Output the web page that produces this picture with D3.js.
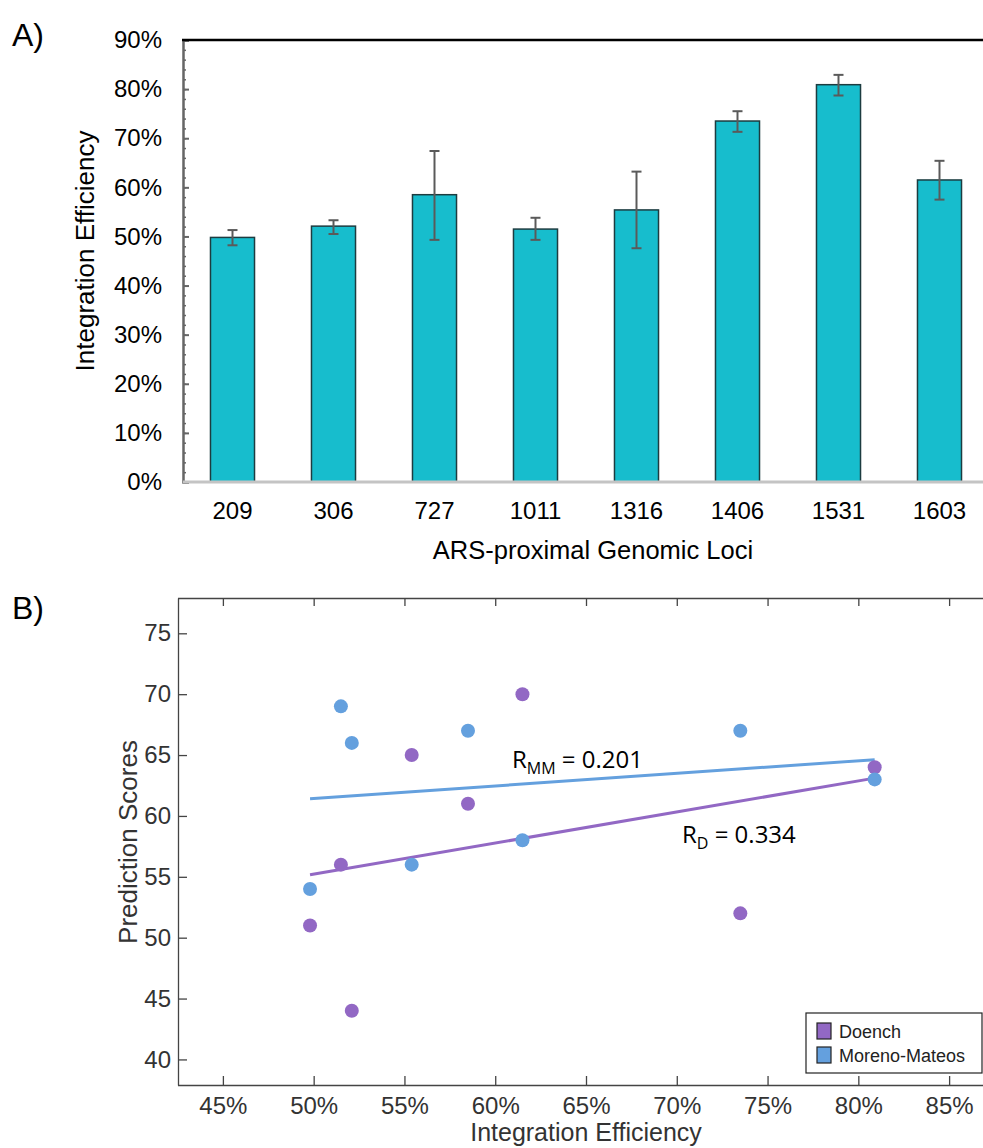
<!DOCTYPE html>
<html>
<head>
<meta charset="utf-8">
<script src="https://cdn.jsdelivr.net/npm/d3@7"></script>
<style>
  body { margin: 0; background: #fff; }
  svg { display: block; font-family: "Liberation Sans", Arial, sans-serif; }
  .ann { font-family: "Open Sans", sans-serif; }
</style>
</head>
<body>
<script>
//-----------------Data----------------

const loci = ["209", "306", "727", "1011", "1316", "1406", "1531", "1603"];
const efficiency = [49.8, 52.1, 58.5, 51.5, 55.4, 73.5, 80.9, 61.5];
const errLow = [48.2, 50.5, 49.3, 49.3, 47.6, 71.3, 78.7, 57.5];
const errHigh = [51.3, 53.3, 67.4, 53.8, 63.2, 75.5, 82.9, 65.4];
const doenchScores = [51, 44, 61, 56, 65, 52, 64, 70];
const morenoScores = [54, 66, 67, 69, 56, 67, 63, 58];
const barTicks = [0, 10, 20, 30, 40, 50, 60, 70, 80, 90];
const scoreTicks = [40, 45, 50, 55, 60, 65, 70, 75];
const effTicks = [45, 50, 55, 60, 65, 70, 75, 80, 85];

const width = 983;
const height = 1148;
const purple = "#9268c4";
const blue = "#64a0de";

const svg = d3.select("body").append("svg").attr("width", width).attr("height", height);

//-----------------Panel A: bar chart---------------------

const xBar = d3.scaleBand().domain(loci).range([182, 990]).paddingInner(0.564).paddingOuter(0.282);
const yBar = d3.scaleLinear().domain([0, 90]).range([482, 40]);

svg.append("text").text("A)").attr("x", 12).attr("y", 46).style("font-size", "32px");

// minor ticks
svg
  .append("g")
  .attr("transform", "translate(183,0)")
  .call(d3.axisLeft(yBar).ticks(45).tickSize(-3).tickFormat(""))
  .call((g) => g.select(".domain").remove())
  .selectAll("line")
  .attr("stroke", "#666")
  .attr("stroke-width", 1.5);

const yAxisA = svg
  .append("g")
  .attr("transform", "translate(183,0)")
  .call(d3.axisLeft(yBar).tickValues(barTicks).tickSize(-6).tickPadding(21).tickFormat((d) => d + "%"));
yAxisA.select(".domain").attr("stroke", "#666").attr("stroke-width", 2.5);
yAxisA.selectAll(".tick line").attr("stroke", "#666").attr("stroke-width", 2);
yAxisA.selectAll("text").style("font-size", "24px").attr("fill", "#000").attr("font-family", "Liberation Sans");

svg.append("line").attr("x1", 182).attr("x2", width).attr("y1", 40).attr("y2", 40).attr("stroke", "#000").attr("stroke-width", 2.5);

svg
  .selectAll(".bar")
  .data(loci)
  .enter()
  .append("rect")
  .attr("class", "bar")
  .attr("x", (d) => xBar(d))
  .attr("width", xBar.bandwidth())
  .attr("y", (d, i) => yBar(efficiency[i]))
  .attr("height", (d, i) => yBar(0) - yBar(efficiency[i]))
  .attr("fill", "#17bdcd")
  .attr("stroke", "#1d3c40")
  .attr("stroke-width", 1.5);

const xAxisA = svg
  .append("g")
  .attr("transform", "translate(0,482)")
  .call(d3.axisBottom(xBar).tickSize(0).tickPadding(20));
xAxisA.select(".domain").remove();
xAxisA.selectAll("text").style("font-size", "24px").attr("fill", "#000").attr("font-family", "Liberation Sans");

svg.append("line").attr("x1", 183).attr("x2", width).attr("y1", 482).attr("y2", 482).attr("stroke", "#c4c4c4").attr("stroke-width", 3);

// error bars
const errG = svg.append("g").attr("stroke", "#5a5a5a").attr("stroke-width", 2);
loci.forEach((d, i) => {
  const cx = xBar(d) + xBar.bandwidth() / 2;
  errG.append("line").attr("x1", cx).attr("x2", cx).attr("y1", yBar(errLow[i])).attr("y2", yBar(errHigh[i]));
  errG.append("line").attr("x1", cx - 5).attr("x2", cx + 5).attr("y1", yBar(errLow[i])).attr("y2", yBar(errLow[i]));
  errG.append("line").attr("x1", cx - 5).attr("x2", cx + 5).attr("y1", yBar(errHigh[i])).attr("y2", yBar(errHigh[i]));
});

svg
  .append("text")
  .text("Integration Efficiency")
  .attr("transform", "translate(94,251) rotate(-90)")
  .style("text-anchor", "middle")
  .style("font-size", "26px");

svg.append("text").text("ARS-proximal Genomic Loci").attr("x", 593).attr("y", 559).style("text-anchor", "middle").style("font-size", "25.5px");

//-----------------Panel B: scatter---------------------

const xSc = d3.scaleLinear().domain([42.5, 87.5]).range([177.5, 994.5]);
const ySc = d3.scaleLinear().domain([37.9, 77.9]).range([1085, 598]);

svg.append("text").text("B)").attr("x", 12).attr("y", 619).style("font-size", "32px");

const styleAxisB = (g) => {
  g.select(".domain").attr("stroke", "#444").attr("stroke-width", 1.3);
  g.selectAll(".tick line").attr("stroke", "#444").attr("stroke-width", 1.3);
  g.selectAll("text").style("font-size", "24px").attr("fill", "#333").attr("font-family", "Liberation Sans");
};

svg
  .append("g")
  .attr("transform", "translate(0,598)")
  .call(d3.axisTop(xSc).tickValues(effTicks).tickSize(-8).tickSizeOuter(0).tickFormat(""))
  .call(styleAxisB);

svg
  .append("g")
  .attr("transform", "translate(0,1085)")
  .call(d3.axisBottom(xSc).tickValues(effTicks).tickSize(-9).tickSizeOuter(0).tickPadding(12).tickFormat((d) => d + "%"))
  .call(styleAxisB);

svg
  .append("g")
  .attr("transform", "translate(178,0)")
  .call(d3.axisLeft(ySc).tickValues(scoreTicks).tickSize(-9).tickSizeOuter(0).tickPadding(7))
  .call(styleAxisB);

// regression lines from the points
function fit(xs, ys) {
  const mx = d3.mean(xs);
  const my = d3.mean(ys);
  const sxy = d3.sum(xs, (x, i) => (x - mx) * (ys[i] - my));
  const sxx = d3.sum(xs, (x) => (x - mx) * (x - mx));
  const b = sxy / sxx;
  return (x) => my + b * (x - mx);
}

const xMin = d3.min(efficiency);
const xMax = d3.max(efficiency);
[
  [morenoScores, blue],
  [doenchScores, purple],
].forEach(([scores, col]) => {
  const f = fit(efficiency, scores);
  svg
    .append("line")
    .attr("x1", xSc(xMin))
    .attr("x2", xSc(xMax))
    .attr("y1", ySc(f(xMin)))
    .attr("y2", ySc(f(xMax)))
    .attr("stroke", col)
    .attr("stroke-width", 3);
});

svg
  .selectAll(".dDot")
  .data(doenchScores)
  .enter()
  .append("circle")
  .attr("cx", (d, i) => xSc(efficiency[i]))
  .attr("cy", (d) => ySc(d))
  .attr("r", 7)
  .attr("fill", purple);

svg
  .selectAll(".mDot")
  .data(morenoScores)
  .enter()
  .append("circle")
  .attr("cx", (d, i) => xSc(efficiency[i]))
  .attr("cy", (d) => ySc(d))
  .attr("r", 7)
  .attr("fill", blue);

// annotations
const annMM = svg.append("text").attr("class", "ann").attr("x", 512).attr("y", 768).style("font-size", "24px");
annMM.append("tspan").text("R");
annMM.append("tspan").text("MM").attr("dy", 6).style("font-size", "16px");
annMM.append("tspan").text(" = 0.201").attr("dy", -6);

const annD = svg.append("text").attr("class", "ann").attr("x", 682).attr("y", 843).style("font-size", "24px");
annD.append("tspan").text("R");
annD.append("tspan").text("D").attr("dy", 6).style("font-size", "16px");
annD.append("tspan").text(" = 0.334").attr("dy", -6);

svg
  .append("text")
  .text("Prediction Scores")
  .attr("transform", "translate(137,842) rotate(-90)")
  .style("text-anchor", "middle")
  .style("font-size", "26px")
  .attr("fill", "#333");

svg.append("text").text("Integration Efficiency").attr("x", 586).attr("y", 1141).style("text-anchor", "middle").style("font-size", "25px").attr("fill", "#333");

//-----------------Legend--------------

const legend = svg.append("g");
legend.append("rect").attr("x", 806).attr("y", 1013).attr("width", 176).attr("height", 60).attr("fill", "#fff").attr("stroke", "#222").attr("stroke-width", 1.2);
[
  ["Doench", purple],
  ["Moreno-Mateos", blue],
].forEach(([name, col], i) => {
  legend
    .append("rect")
    .attr("x", 817)
    .attr("y", 1023 + i * 24)
    .attr("width", 14)
    .attr("height", 16)
    .attr("fill", col)
    .attr("stroke", "#222")
    .attr("stroke-width", 1.2);
  legend
    .append("text")
    .text(name)
    .attr("x", 839)
    .attr("y", 1038 + i * 24)
    .style("font-size", "18px")
    .attr("fill", "#222");
});
</script>
</body>
</html>
